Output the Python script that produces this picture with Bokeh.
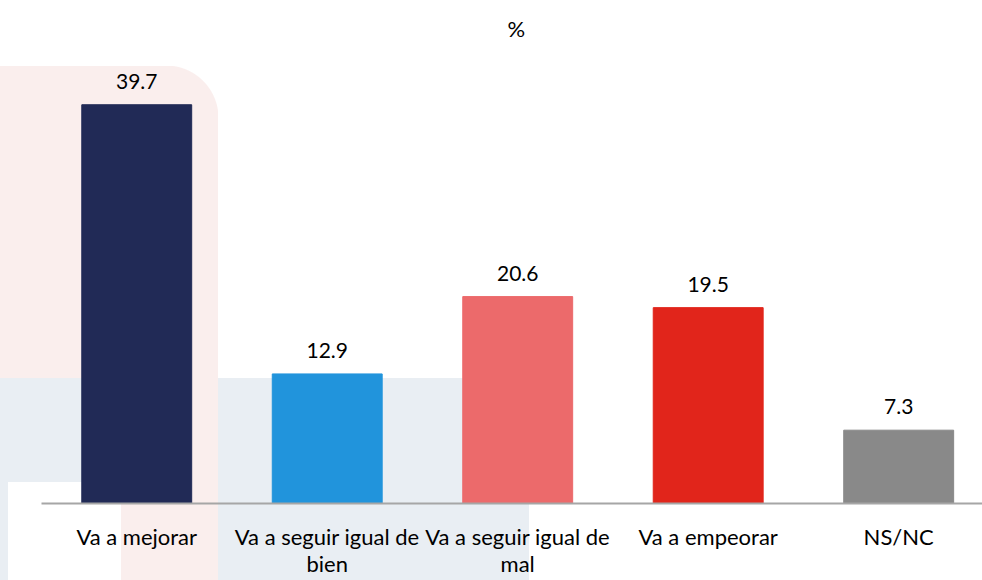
from bokeh.plotting import figure
from bokeh.models import ColumnDataSource, Range1d, FixedTicker, LabelSet
from bokeh.core.properties import value
from bokeh.embed import file_html
from bokeh.resources import INLINE

# ---- data ----
categories = ["Va a mejorar", "Va a seguir igual de bien", "Va a seguir igual de mal",
              "Va a empeorar", "NS/NC"]
tick_labels = ["Va a mejorar", "Va a seguir igual de\nbien", "Va a seguir igual de\nmal",
               "Va a empeorar", "NS/NC"]
values = [39.7, 12.9, 20.6, 19.5, 7.3]
colors = ["#212A56", "#2194DC", "#EC6A6B", "#E1251B", "#898989"]

FONT = "Lato"

xpos = [i + 0.5 for i in range(len(categories))]
src = ColumnDataSource(dict(x=xpos, top=values, color=colors,
                            label=[f"{v:.1f}" for v in values], cat=categories))

p = figure(width=982, height=580, output_backend="svg", toolbar_location=None,
           x_range=Range1d(0, 4.94), y_range=Range1d(0, 45),
           title="%")
p.min_border_left = 41
p.min_border_right = 0
p.min_border_top = 51
p.min_border_bottom = 77
p.outline_line_color = None
p.background_fill_color = None
p.border_fill_color = None
p.grid.visible = False
p.yaxis.visible = False

p.title.align = "left"
p.title.offset = 466
p.title.standoff = 16
p.title.vertical_align = "top"
p.title.text_font = FONT
p.title.text_font_size = "22px"
p.title.text_font_style = "normal"
p.title.text_color = "#000000"

# faint decorative background (CSS layers, first = top)
PINK = "#FAEEED"
BLUE = "#E9EEF3"
def layer(c, x, y, w, h):
    return f"linear-gradient({c},{c}) {x}px {y}px / {w}px {h}px no-repeat"
layers = [
    layer("#FFFFFF", 8, 482, 113, 98),
    layer(PINK, 121, 378, 97, 202),
    layer(BLUE, 0, 378, 529, 202),
    f"radial-gradient(circle at 0 100%, {PINK} 52px, rgba(255,255,255,0) 53px) 166px 66px / 52px 52px no-repeat",
    layer(PINK, 0, 66, 166, 514),
    layer(PINK, 166, 118, 52, 462),
]
p.styles = {"background": ", ".join(layers) + ", #FFFFFF"}

p.vbar(x="x", top="top", width=0.577, bottom=0, color="color", source=src)

p.add_layout(LabelSet(x="x", y="top", text="label", source=src,
                      text_align="center", text_baseline="bottom", y_offset=16,
                      text_font=value(FONT), text_font_size=value("21px"),
                      text_color="#000000"))

xa = p.xaxis[0]
xa.ticker = FixedTicker(ticks=xpos)
xa.major_label_overrides = {x: t for x, t in zip(xpos, tick_labels)}
xa.major_tick_line_color = None
xa.minor_tick_line_color = None
xa.major_tick_out = 0
xa.major_tick_in = 0
xa.axis_line_color = "#A6A6A6"
xa.axis_line_width = 2
xa.major_label_standoff = 19
xa.major_label_text_font = FONT
xa.major_label_text_font_size = "22px"
xa.major_label_text_color = "#000000"
xa.major_label_text_line_height = 1.0

open("out.html", "w").write(file_html(p, INLINE))
